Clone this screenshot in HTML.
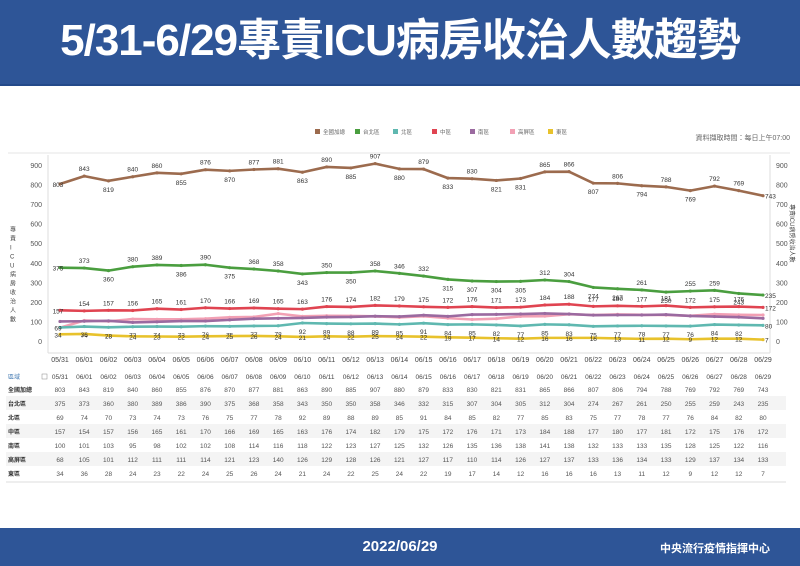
<!DOCTYPE html>
<html><head><meta charset="utf-8">
<style>
body{margin:0;width:800px;height:566px;overflow:hidden;background:#fff;font-family:"Liberation Sans","Noto Sans CJK TC",sans-serif;}
#hdr{position:absolute;left:0;top:0;width:800px;height:86px;background:#2e5597;border-bottom:2px solid #244a8a;box-sizing:border-box;}
#hdr h1{margin:0;position:absolute;left:0;width:800px;top:16px;text-align:center;color:#fff;font-size:44px;line-height:50px;font-weight:bold;letter-spacing:-1px;font-family:"Liberation Sans Narrow","Liberation Sans","Noto Sans CJK TC",sans-serif;}
#ftr{position:absolute;left:0;top:528px;width:800px;height:38px;background:#2e5597;color:#fff;font-weight:bold;}
svg text{font-family:"Liberation Sans","Noto Sans CJK TC",sans-serif;}
</style></head><body>
<div id="hdr"><h1>5/31-6/29專責ICU病房收治人數趨勢</h1></div>
<svg id="chart" width="800" height="442" style="position:absolute;left:0;top:86px"></svg>
<div id="ftr">
<span style="position:absolute;left:0;width:800px;text-align:center;top:10px;font-size:15px">2022/06/29</span>
<span style="position:absolute;right:30px;top:12px;font-size:11px">中央流行疫情指揮中心</span>
</div>
<script>
const dates=["05/31","06/01","06/02","06/03","06/04","06/05","06/06","06/07","06/08","06/09","06/10","06/11","06/12","06/13","06/14","06/15","06/16","06/17","06/18","06/19","06/20","06/21","06/22","06/23","06/24","06/25","06/26","06/27","06/28","06/29"];
const seriesNames=["全國加總","台北區","北區","中區","南區","高屏區","東區"];
const total=[803,843,819,840,860,855,876,870,877,881,863,890,885,907,880,879,833,830,821,831,865,866,807,806,794,788,769,792,769,743];
const taipei=[375,373,360,380,389,386,390,375,368,358,343,350,350,358,346,332,315,307,304,305,312,304,274,267,261,250,255,259,243,235];
const north=[69,74,70,73,74,73,76,75,77,78,92,89,88,89,85,91,84,85,82,77,85,83,75,77,78,77,76,84,82,80];
const central=[157,154,157,156,165,161,170,166,169,165,163,176,174,182,179,175,172,176,171,173,184,188,177,180,177,181,172,175,176,172];
const south=[100,101,103,95,98,102,102,108,114,116,118,122,123,127,125,132,126,135,136,138,141,138,132,133,133,135,128,125,122,116];
const kaoping=[68,105,101,112,111,111,114,121,123,140,126,129,128,126,121,127,117,110,114,126,127,137,133,136,134,133,129,137,134,133];
const east=[34,36,28,24,23,22,24,25,26,24,21,24,22,25,24,22,19,17,14,12,16,16,16,13,11,12,9,12,12,7];
const yTicks=[0,100,200,300,400,500,600,700,800,900];

const svg=document.getElementById('chart');
const NS='http://www.w3.org/2000/svg';
const OY=86;
const x=i=>60+i*(703/29);
const y=v=>(341-OY)-v*(176/900);
function mk(tag,attrs,parent){const e=document.createElementNS(NS,tag);for(const k in attrs)e.setAttribute(k,attrs[k]);(parent||svg).appendChild(e);return e;}
function txt(s,attrs,parent){const e=mk('text',attrs,parent);e.textContent=s;return e;}

const frame=mk('g',{});


mk('line',{x1:48,y1:y(900)-10,x2:48,y2:267,stroke:'#ddd'},frame);
mk('line',{x1:770,y1:y(900)-10,x2:770,y2:267,stroke:'#ddd'},frame);
mk('line',{x1:48,y1:267,x2:770,y2:267,stroke:'#ddd'},frame);
mk('line',{x1:8,y1:y(900)-12,x2:790,y2:y(900)-12,stroke:'#e6e6e6'},frame);

const la=mk('g',{});


const ra=mk('g',{});


yTicks.forEach(t=>{
  txt(t,{x:42,y:y(t)+3,'font-size':7,'text-anchor':'end',fill:'#555'},la);
  txt(t,{x:776,y:y(t)+3,'font-size':7,fill:'#555'},ra);
});
const yt=txt('',{x:10,y:y(500),'font-size':6,fill:'#444'});


"專責ICU病房收治人數".split('').forEach((c,i)=>{const t=mk('tspan',{x:10,y:y(560)+i*9},yt);t.textContent=c;});
const yt2=txt('專責ICU病房收治人數',{x:0,y:0,'font-size':6,fill:'#444',transform:`translate(790,${y(700)}) rotate(90)`});



const xa=mk('g',{});


dates.forEach((d,i)=>txt(d,{x:x(i),y:276,'font-size':7,'text-anchor':'middle',fill:'#444'},xa));

const colors=['#9c6b4e','#4a9e3f','#5fb8b0','#e04451','#9b6aa0','#f2a0b4','#e8c22c'];
const data=[total,taipei,north,central,south,kaoping,east];
const keys=['total','taipei','north','central','south','kaoping','east'];
const lg=mk('g',{});


const lx=[315,355,393,432,470,510,548];
seriesNames.forEach((n,i)=>{
  const g=mk('g',{},lg);
  
  
  mk('rect',{x:lx[i],y:43,width:5,height:5,fill:colors[i]},g);
  txt(n,{x:lx[i]+8,y:48,'font-size':5.5,fill:'#666'},g);
});
const src=txt('資料擷取時間：每日上午07:00',{x:790,y:54,'font-size':7,'text-anchor':'end',fill:'#666'});



const order=[5,4,2,6,3,1,0];
order.forEach(si=>{
  const arr=data[si];
  const g=mk('g',{});
  
  
  const pl=mk('polyline',{points:arr.map((v,i)=>x(i)+','+y(v)).join(' '),fill:'none',stroke:colors[si],'stroke-width':2.6,'stroke-linejoin':'round'},g);
  
  
  arr.forEach((v,i)=>{
    const c=mk('circle',{cx:x(i),cy:y(v),r:1.6,fill:colors[si]},g);
    
    
  });
  if([0,1,3,2,6].includes(si)){
    arr.forEach((v,i)=>{
      let dy;
      if(si===2){dy=11;} else if(si===6){dy=3;} else if(si===3){dy=-5;}
      else{
        const nb=((arr[i-1]??arr[i+1])+(arr[i+1]??arr[i-1]))/2;
        dy=(v>=nb)?-5:11;
      }
      let xx=x(i),anchor='middle';
      if(i===0){xx=x(0)-2;dy=3;}
      if(i===29){xx=x(29)+2;anchor='start';dy=3;}
      const t=txt(v,{x:xx,y:y(v)+dy,'font-size':6.5,'text-anchor':anchor,fill:'#333'},g);
      
      
    });
  }
});

const tb=mk('g',{});


const ty0=376-OY;
txt('區域',{x:8,y:ty0+3,'font-size':6,fill:'#4a7fb5'},tb);
mk('rect',{x:42,y:ty0-2,width:5,height:5,fill:'none',stroke:'#888','stroke-width':0.5},tb);
dates.forEach((d,i)=>txt(d,{x:x(i),y:ty0+3,'font-size':6.5,'text-anchor':'middle',fill:'#444'},tb));
data.forEach((arr,r)=>{
  const ry=ty0+14*(r+1);
  if(r%2===1) mk('rect',{x:6,y:ry-8,width:780,height:14,fill:'#f4f4f4'},tb);
  txt(seriesNames[r],{x:8,y:ry+2,'font-size':6,'font-weight':'bold',fill:'#333'},tb);
  arr.forEach((v,i)=>txt(v,{x:x(i),y:ry+2,'font-size':6.5,'text-anchor':'middle',fill:'#555'},tb));
});
mk('line',{x1:6,y1:ty0+106,x2:786,y2:ty0+106,stroke:'#ddd'},tb);
</script>
</body></html>
